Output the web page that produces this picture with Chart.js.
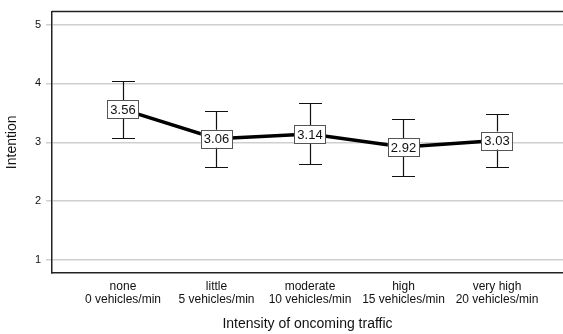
<!DOCTYPE html>
<html>
<head>
<meta charset="utf-8">
<script src="https://cdn.jsdelivr.net/npm/chart.js@4"></script>
<style>
  html, body { margin: 0; padding: 0; background: #fff; }
  #wrap { width: 563px; height: 334px; }
</style>
</head>
<body>
<div id="wrap"><canvas id="chart" width="563" height="334"></canvas></div>
<script>
'use strict';

const LEVELS = ['none', 'little', 'moderate', 'high', 'very high'];
const RATES = ['0 vehicles/min', '5 vehicles/min', '10 vehicles/min', '15 vehicles/min', '20 vehicles/min'];
const MEANS = [3.56, 3.06, 3.14, 2.92, 3.03];
const CI_LOW = [3.07, 2.58, 2.63, 2.43, 2.58];
const CI_HIGH = [4.04, 3.54, 3.66, 3.40, 3.48];
const Y_TICKS = [1, 2, 3, 4, 5];

const FONT = "'Liberation Sans', Arial, sans-serif";

/* error bars, value boxes and the top frame line */
const marksPlugin = {
  id: 'marks',
  afterDatasetsDraw(chart) {
    const { ctx, chartArea, scales: { x, y } } = chart;
    ctx.save();
    ctx.strokeStyle = '#222';
    ctx.lineWidth = 1.5;
    ctx.beginPath();
    ctx.moveTo(chartArea.left, chartArea.top);
    ctx.lineTo(chartArea.right, chartArea.top);
    ctx.stroke();

    ctx.strokeStyle = '#111';
    ctx.lineWidth = 1.2;
    MEANS.forEach((m, i) => {
      const px = Math.round(x.getPixelForValue(i)) + 0.5;
      const top = Math.round(y.getPixelForValue(CI_HIGH[i])) + 0.5;
      const bot = Math.round(y.getPixelForValue(CI_LOW[i])) + 0.5;
      ctx.beginPath();
      ctx.moveTo(px, top); ctx.lineTo(px, bot);
      ctx.moveTo(px - 11.5, top); ctx.lineTo(px + 11.5, top);
      ctx.moveTo(px - 11.5, bot); ctx.lineTo(px + 11.5, bot);
      ctx.stroke();
    });

    ctx.font = `13px ${FONT}`;
    ctx.textAlign = 'center';
    ctx.textBaseline = 'middle';
    MEANS.forEach((m, i) => {
      const px = x.getPixelForValue(i);
      const py = y.getPixelForValue(m);
      const txt = m.toFixed(2);
      const w = ctx.measureText(txt).width + 6;
      const h = 18;
      ctx.fillStyle = '#fff';
      ctx.fillRect(px - w / 2, py - h / 2, w, h);
      ctx.strokeStyle = '#555';
      ctx.lineWidth = 1;
      ctx.strokeRect(Math.round(px - w / 2) + 0.5, Math.round(py - h / 2) + 0.5, Math.round(w), h);
      ctx.fillStyle = '#111';
      ctx.fillText(txt, px, py + 1);
    });
    ctx.restore();
  }
};

new Chart(document.getElementById('chart'), {
  type: 'line',
  data: {
    datasets: [{
      data: MEANS.map((m, i) => ({ x: i, y: m })),
      borderColor: '#000',
      borderWidth: 3.5,
      pointRadius: 0,
      tension: 0,
    }],
  },
  options: {
    responsive: false,
    animation: false,
    layout: { padding: { top: 11, right: 0, left: 0, bottom: 0 } },
    plugins: { legend: { display: false }, tooltip: { enabled: false } },
    scales: {
      x: {
        type: 'linear',
        min: -0.759,
        max: 4.706,
        afterBuildTicks: s => { s.ticks = LEVELS.map((_, i) => ({ value: i })); },
        afterFit: s => { s.height = 61; },
        grid: { drawOnChartArea: false, drawTicks: false },
        border: { color: '#222', width: 1.5 },
        ticks: {
          autoSkip: false,
          maxRotation: 0,
          padding: 7,
          color: '#111',
          font: { family: FONT, size: 12, lineHeight: 1.12 },
          callback: v => [LEVELS[v], RATES[v]],
        },
        title: {
          display: true,
          text: 'Intensity of oncoming traffic',
          color: '#111',
          font: { family: FONT, size: 14 },
          padding: { top: 10, bottom: 1 },
        },
      },
      y: {
        min: 0.78,
        max: 5.22,
        afterBuildTicks: s => { s.ticks = Y_TICKS.map(v => ({ value: v })); },
        afterFit: s => { s.width = 52; },
        grid: { color: '#cfcfcf', lineWidth: 1.5, tickLength: 6 },
        border: { color: '#222', width: 1.5 },
        ticks: {
          padding: 5,
          color: '#111',
          font: { family: FONT, size: 11 },
        },
        title: {
          display: true,
          text: 'Intention',
          color: '#111',
          font: { family: FONT, size: 14 },
          padding: { top: 4, bottom: 0 },
        },
      },
    },
  },
  plugins: [marksPlugin],
});
</script>
</body>
</html>
